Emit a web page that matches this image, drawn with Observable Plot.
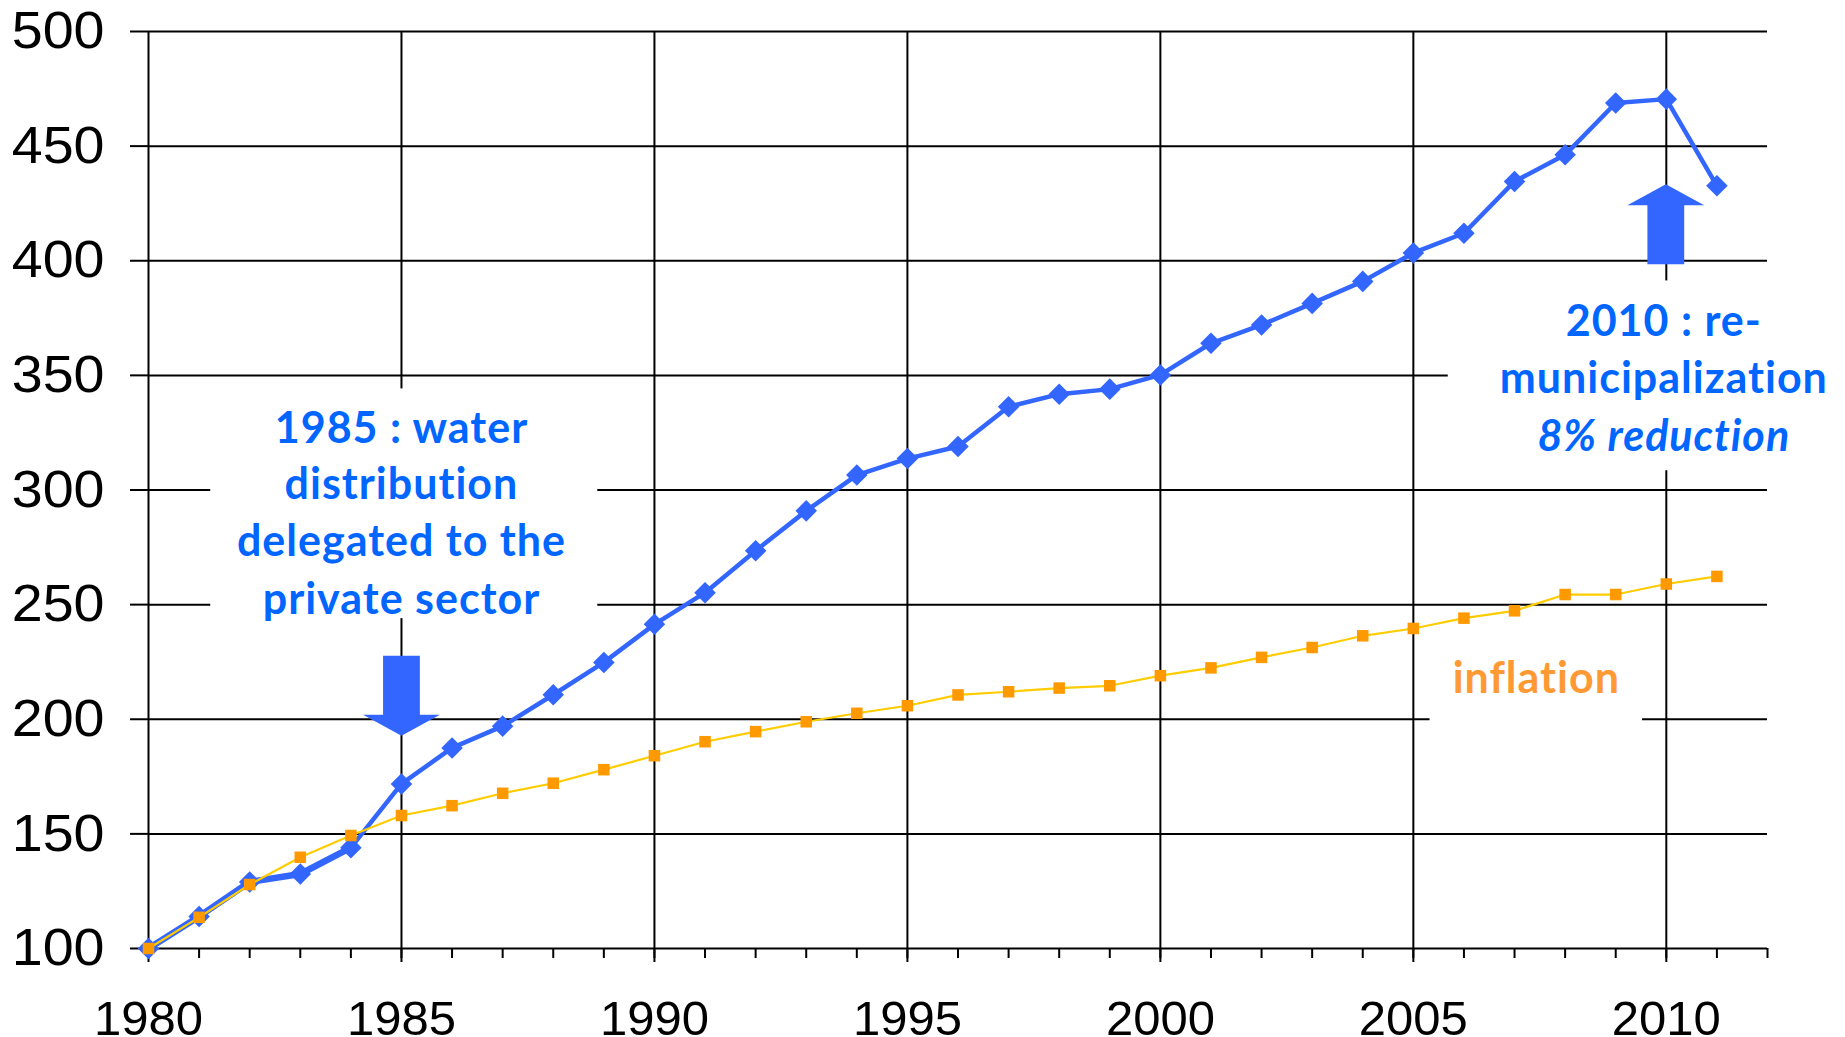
<!DOCTYPE html>
<html>
<head>
<meta charset="utf-8">
<script src="https://cdn.jsdelivr.net/npm/d3@7"></script>
<script src="https://cdn.jsdelivr.net/npm/@observablehq/plot@0.6"></script>
<style>
  html, body { margin: 0; padding: 0; background: #fff; }
  #chart svg { display: block; }
</style>
</head>
<body>
<div id="chart"></div>
<script>
// ---- data ----
const years = d3.range(1980, 2012); // 1980..2011
const waterPrice = [100, 114, 129, 132.5, 144, 171.8, 187.5, 197, 210.7, 224.8,
  241.4, 255.2, 273.5, 290.9, 306.5, 313.7, 319, 336.3, 341.8, 344,
  350.2, 364, 372, 381.4, 391, 403.4, 412, 434.6, 446.2, 468.8,
  470.5, 432.7];
const inflation = [100, 113.6, 127.9, 139.8, 149.3, 158, 162.3, 167.7, 172.1, 178,
  184.1, 190.2, 194.6, 198.9, 202.6, 205.9, 210.6, 212, 213.6, 214.6,
  219, 222.4, 227, 231.3, 236.4, 239.6, 244.1, 247.3, 254.4, 254.4,
  259, 262.3];
const yTicks = [100, 150, 200, 250, 300, 350, 400, 450, 500];
const majorYears = [1980, 1985, 1990, 1995, 2000, 2005, 2010];
const minorYears = d3.range(1981, 2013);
const xDomain = [1980, 2012];
const yDomain = [100, 500];

// annotations (data coordinates)
const annotBoxes = [
  {x1: 1981.23, x2: 1988.88, y1: 243.9, y2: 344.1},
  {x1: 2005.69, x2: 2013.7, y1: 308.4, y2: 391.2},
  {x1: 2005.33, x2: 2009.53, y1: 190.7, y2: 232.1}
];
const leftNote = [
  {x: 1985, y: 320.7, text: "1985 : water"},
  {x: 1985, y: 296.2, text: "distribution"},
  {x: 1985, y: 271.3, text: "delegated to the"},
  {x: 1985, y: 246.0, text: "private sector"}
];
const rightNote = [
  {x: 2009.95, y: 367.2, text: "2010 : re-"},
  {x: 2009.95, y: 342.5, text: "municipalization"}
];
const rightNoteItalic = [{x: 2009.95, y: 317.1, text: "8% reduction"}];
const inflationNote = [{x: 2007.43, y: 211.6, text: "inflation"}];
const arrowsDown = [{x: 1985, y: 210.3}];
const arrowsUp = [{x: 2009.99, y: 415.9}];

// ---- build tables ----
const waterRows = years.map((year, i) => ({year, value: waterPrice[i]}));
const inflRows = years.map((year, i) => ({year, value: inflation[i]}));

// block-arrow symbols (size = pi r^2, r = half height)
function blockArrow(dir) {
  return {
    draw(context, size) {
      const r = Math.sqrt(size / Math.PI);
      const s = dir; // -1 up, +1 down
      const headH = 0.525 * r, headW = 0.96 * r, shaftW = 0.46 * r;
      context.moveTo(0, s * r);
      context.lineTo(headW, s * (r - headH));
      context.lineTo(shaftW, s * (r - headH));
      context.lineTo(shaftW, -s * r);
      context.lineTo(-shaftW, -s * r);
      context.lineTo(-shaftW, s * (r - headH));
      context.lineTo(-headW, s * (r - headH));
      context.closePath();
    }
  };
}

const blue = "#3366FF";
const textBlue = "#0066FF";
const noteFont = "Lato, 'Open Sans', sans-serif";
const noteStyle = {fontSize: 43, fontWeight: "bold", fontFamily: noteFont, lineAnchor: "bottom", textAnchor: "middle"};

const chart = Plot.plot({
  width: 1845,
  height: 1037,
  marginLeft: 148,
  marginRight: 78,
  marginTop: 31,
  marginBottom: 89,
  x: {domain: xDomain, axis: null},
  y: {domain: yDomain, axis: null},
  style: {fontFamily: "'Liberation Sans', Arial, sans-serif", background: "#fff", color: "#000", overflow: "visible"},
  marks: [
    // grid
    Plot.ruleY(yTicks, {x1: xDomain[0], x2: xDomain[1], stroke: "#000", strokeWidth: 2}),
    Plot.ruleX(majorYears, {y1: yDomain[0], y2: yDomain[1], stroke: "#000", strokeWidth: 2}),
    // axes
    Plot.axisY({ticks: yTicks, tickSize: 18, tickPadding: 26, fontSize: 52, strokeWidth: 2, stroke: "#000", label: null, tickFormat: d => String(d)}),
    Plot.axisX({ticks: minorYears, tickSize: 10, strokeWidth: 2, stroke: "#000", label: null, tickFormat: () => ""}),
    Plot.axisX({ticks: majorYears, tickSize: 14, tickPadding: 38, fontSize: 49, strokeWidth: 2, stroke: "#000", label: null, tickFormat: d => String(d)}),
    // white annotation backgrounds
    Plot.rect(annotBoxes, {x1: "x1", x2: "x2", y1: "y1", y2: "y2", fill: "#fff"}),
    // water price series
    Plot.line(waterRows, {x: "year", y: "value", stroke: blue, strokeWidth: 4.5, strokeLinejoin: "round"}),
    Plot.line(waterRows.filter(d => d.year <= 1984), {x: "year", y: "value", stroke: blue, strokeWidth: 6.5, strokeLinejoin: "round"}),
    Plot.dot(waterRows, {x: "year", y: "value", symbol: "diamond2", r: 9.7, fill: blue, stroke: "none"}),
    // inflation series
    Plot.line(inflRows, {x: "year", y: "value", stroke: "#FFCC00", strokeWidth: 2.2}),
    Plot.dot(inflRows, {x: "year", y: "value", symbol: "square", r: 6.5, fill: "#FF9900", stroke: "none"}),
    // arrows
    Plot.dot(arrowsDown, {x: "x", y: "y", symbol: blockArrow(1), r: 40, fill: blue, stroke: "none"}),
    Plot.dot(arrowsUp, {x: "x", y: "y", symbol: blockArrow(-1), r: 40, fill: blue, stroke: "none"}),
    // annotation text
    Plot.text(leftNote, {x: "x", y: "y", text: "text", fill: textBlue, ...noteStyle}),
    Plot.text(rightNote, {x: "x", y: "y", text: "text", fill: textBlue, ...noteStyle}),
    Plot.text(rightNoteItalic, {x: "x", y: "y", text: "text", fill: textBlue, fontStyle: "italic", ...noteStyle}),
    Plot.text(inflationNote, {x: "x", y: "y", text: "text", fill: "#FF9933", ...noteStyle})
  ]
});
document.getElementById("chart").appendChild(chart);

// annotation letter spacing & slightly wider y tick labels, as in the reference
d3.select(chart).selectAll('g[aria-label="text"] text').style("letter-spacing", "1px");
d3.select(chart).selectAll('g[aria-label="y-axis tick label"] text').each(function () {
  const w = this.getComputedTextLength();
  this.setAttribute("textLength", (w * 1.07).toFixed(1));
  this.setAttribute("lengthAdjust", "spacingAndGlyphs");
});
</script>
</body>
</html>
